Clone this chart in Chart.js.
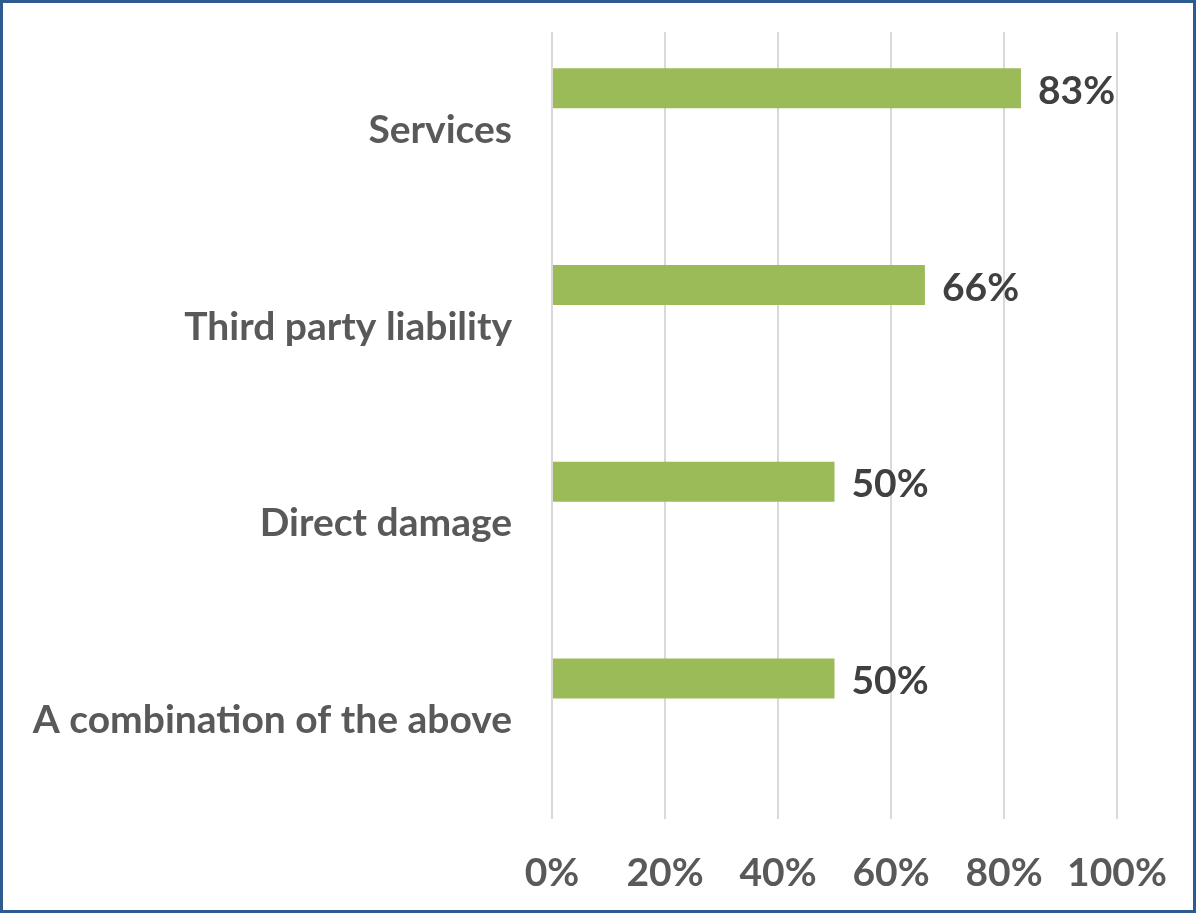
<!DOCTYPE html>
<html lang="en">
<head>
    <meta charset="UTF-8">
    <title>Coverage types</title>
    <script src="https://cdn.jsdelivr.net/npm/chart.js"></script>
    <style>
        body {
            margin: 0;
            padding: 0;
            background: #ffffff;
        }
        .frame {
            width: 1196px;
            height: 913px;
            box-sizing: border-box;
            border: 3px solid #2f5a8f;
            background: #ffffff;
        }
        .frame canvas {
            display: block;
        }
    </style>
</head>
<body>
    <div class="frame">
        <canvas id="coverageChart" width="1190" height="907"></canvas>
    </div>

    <script>
        const categories = ["Services", "Third party liability", "Direct damage", "A combination of the above"];
        const shares = [83, 66, 50, 50];
        const xTicks = [0, 20, 40, 60, 80, 100];

        const FONT = "Lato, 'Open Sans', sans-serif";
        const FONT_SIZE = 39;

        // value text just past the end of each bar
        const valueLabels = {
            id: "valueLabels",
            afterDatasetsDraw(chart) {
                const ctx = chart.ctx;
                const meta = chart.getDatasetMeta(0);
                ctx.save();
                ctx.font = "bold " + FONT_SIZE + "px " + FONT;
                ctx.fillStyle = "#404040";
                ctx.textAlign = "left";
                ctx.textBaseline = "middle";
                meta.data.forEach((bar, i) => {
                    ctx.fillText(shares[i] + "%", bar.x + 17, bar.y + 3);
                });
                ctx.restore();
            }
        };

        new Chart(document.getElementById("coverageChart"), {
            type: "bar",
            data: {
                labels: categories,
                datasets: [
                    {
                        label: "Share",
                        data: shares,
                        backgroundColor: "#9bbb59",
                        barPercentage: 0.476,
                        categoryPercentage: 0.857
                    },
                    {
                        // empty second slot keeps the bars in the upper half of each row
                        label: "",
                        data: categories.map(() => null),
                        backgroundColor: "transparent",
                        barPercentage: 0.476,
                        categoryPercentage: 0.857
                    }
                ]
            },
            options: {
                indexAxis: "y",
                responsive: false,
                animation: false,
                layout: {
                    padding: { top: 29, right: 76, bottom: 0, left: 0 }
                },
                plugins: {
                    legend: { display: false },
                    tooltip: { enabled: false }
                },
                scales: {
                    x: {
                        min: 0,
                        max: 100,
                        afterBuildTicks(scale) {
                            scale.ticks = xTicks.map(v => ({ value: v }));
                        },
                        afterFit(scale) {
                            scale.height = 91;
                            scale.paddingLeft = 0;
                            scale.paddingRight = 0;
                        },
                        grid: {
                            color: "#d9d9d9",
                            lineWidth: 2,
                            drawTicks: false
                        },
                        border: { display: false },
                        ticks: {
                            padding: 31,
                            color: "#595959",
                            font: { family: FONT, size: FONT_SIZE, weight: "bold" },
                            callback: v => v + "%"
                        }
                    },
                    y: {
                        afterFit(scale) {
                            scale.width = 549;
                            scale.paddingTop = 0;
                            scale.paddingBottom = 0;
                        },
                        grid: { display: false, drawTicks: false },
                        border: { display: false },
                        ticks: {
                            padding: 40,
                            color: "#595959",
                            font: { family: FONT, size: FONT_SIZE, weight: "bold" }
                        }
                    }
                }
            },
            plugins: [valueLabels]
        });
    </script>
</body>
</html>
